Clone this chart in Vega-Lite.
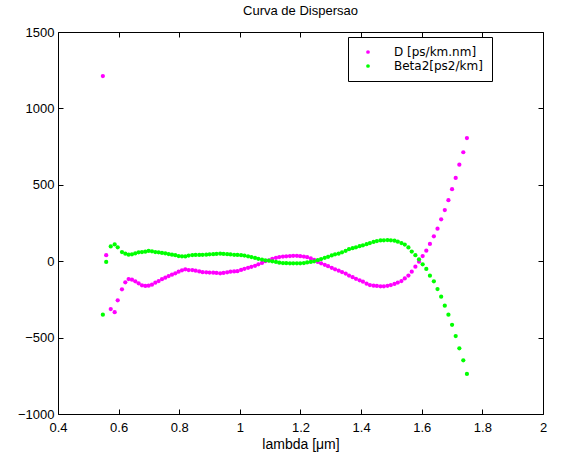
{
  "$schema": "https://vega.github.io/schema/vega-lite/v6.json",
  "width": 485,
  "height": 382,
  "autosize": {"type": "none"},
  "padding": {"left": 58, "top": 32, "right": 20, "bottom": 43},
  "background": "white",
  "config": {
    "view": {"stroke": "#000000", "strokeWidth": 1},
    "font": "Liberation Sans",
    "axis": {
      "domain": false,
      "grid": false,
      "tickColor": "#000000",
      "tickSize": -5,
      "labelColor": "#000000",
      "labelFont": "Liberation Sans",
      "labelFontSize": 13,
      "titleFont": "Liberation Sans",
      "titleFontSize": 14,
      "titleFontWeight": "normal",
      "titleColor": "#000000"
    }
  },
  "title": {
    "text": "Curva de Dispersao",
    "fontSize": 13,
    "fontWeight": "normal",
    "font": "Liberation Sans",
    "color": "#000000",
    "anchor": "middle",
    "offset": 8
  },
  "data": {
    "values": [
      {"l": 0.548, "D": 1212, "Beta2": -350},
      {"l": 0.559, "D": 39, "Beta2": -5},
      {"l": 0.574, "D": -313, "Beta2": 97},
      {"l": 0.587, "D": -334, "Beta2": 110},
      {"l": 0.597, "D": -256, "Beta2": 91},
      {"l": 0.611, "D": -184, "Beta2": 60},
      {"l": 0.622, "D": -138, "Beta2": 49},
      {"l": 0.633, "D": -117, "Beta2": 43},
      {"l": 0.644, "D": -121, "Beta2": 45},
      {"l": 0.655, "D": -132, "Beta2": 52},
      {"l": 0.666, "D": -145, "Beta2": 58},
      {"l": 0.677, "D": -158, "Beta2": 60},
      {"l": 0.688, "D": -162, "Beta2": 62},
      {"l": 0.699, "D": -160, "Beta2": 67},
      {"l": 0.710, "D": -154, "Beta2": 65},
      {"l": 0.721, "D": -141, "Beta2": 60},
      {"l": 0.732, "D": -130, "Beta2": 58},
      {"l": 0.743, "D": -118, "Beta2": 54},
      {"l": 0.754, "D": -108, "Beta2": 52},
      {"l": 0.765, "D": -97, "Beta2": 47},
      {"l": 0.776, "D": -88, "Beta2": 43},
      {"l": 0.787, "D": -79, "Beta2": 39},
      {"l": 0.798, "D": -69, "Beta2": 34},
      {"l": 0.809, "D": -60, "Beta2": 32},
      {"l": 0.820, "D": -53, "Beta2": 31},
      {"l": 0.831, "D": -58, "Beta2": 37},
      {"l": 0.843, "D": -58, "Beta2": 40},
      {"l": 0.854, "D": -62, "Beta2": 41},
      {"l": 0.866, "D": -67, "Beta2": 41},
      {"l": 0.877, "D": -72, "Beta2": 42},
      {"l": 0.889, "D": -73, "Beta2": 43},
      {"l": 0.900, "D": -74, "Beta2": 45},
      {"l": 0.912, "D": -75, "Beta2": 46},
      {"l": 0.923, "D": -77, "Beta2": 48},
      {"l": 0.935, "D": -79, "Beta2": 49},
      {"l": 0.946, "D": -77, "Beta2": 48},
      {"l": 0.958, "D": -73, "Beta2": 46},
      {"l": 0.969, "D": -69, "Beta2": 44},
      {"l": 0.981, "D": -67, "Beta2": 42},
      {"l": 0.992, "D": -65, "Beta2": 41},
      {"l": 1.004, "D": -57, "Beta2": 39},
      {"l": 1.015, "D": -50, "Beta2": 37},
      {"l": 1.027, "D": -43, "Beta2": 32},
      {"l": 1.038, "D": -37, "Beta2": 27},
      {"l": 1.050, "D": -30, "Beta2": 21},
      {"l": 1.061, "D": -20, "Beta2": 16},
      {"l": 1.073, "D": -11, "Beta2": 11},
      {"l": 1.084, "D": 0, "Beta2": 6},
      {"l": 1.096, "D": 6, "Beta2": 3},
      {"l": 1.107, "D": 16, "Beta2": -1},
      {"l": 1.119, "D": 22, "Beta2": -5},
      {"l": 1.130, "D": 27, "Beta2": -10},
      {"l": 1.142, "D": 30, "Beta2": -12},
      {"l": 1.153, "D": 32, "Beta2": -13},
      {"l": 1.165, "D": 34, "Beta2": -14},
      {"l": 1.176, "D": 35, "Beta2": -14},
      {"l": 1.188, "D": 35, "Beta2": -14},
      {"l": 1.199, "D": 33, "Beta2": -14},
      {"l": 1.211, "D": 30, "Beta2": -12},
      {"l": 1.222, "D": 26, "Beta2": -8},
      {"l": 1.234, "D": 18, "Beta2": -5},
      {"l": 1.245, "D": 9, "Beta2": -1},
      {"l": 1.257, "D": -5, "Beta2": 7},
      {"l": 1.268, "D": -14, "Beta2": 14},
      {"l": 1.280, "D": -24, "Beta2": 22},
      {"l": 1.291, "D": -33, "Beta2": 29},
      {"l": 1.303, "D": -43, "Beta2": 38},
      {"l": 1.314, "D": -53, "Beta2": 45},
      {"l": 1.326, "D": -62, "Beta2": 50},
      {"l": 1.337, "D": -71, "Beta2": 58},
      {"l": 1.349, "D": -81, "Beta2": 68},
      {"l": 1.360, "D": -94, "Beta2": 79},
      {"l": 1.372, "D": -105, "Beta2": 85},
      {"l": 1.383, "D": -115, "Beta2": 91},
      {"l": 1.395, "D": -125, "Beta2": 98},
      {"l": 1.406, "D": -134, "Beta2": 104},
      {"l": 1.418, "D": -147, "Beta2": 111},
      {"l": 1.429, "D": -156, "Beta2": 119},
      {"l": 1.441, "D": -160, "Beta2": 126},
      {"l": 1.452, "D": -162, "Beta2": 132},
      {"l": 1.464, "D": -164, "Beta2": 136},
      {"l": 1.475, "D": -164, "Beta2": 137},
      {"l": 1.487, "D": -161, "Beta2": 138},
      {"l": 1.498, "D": -156, "Beta2": 137},
      {"l": 1.510, "D": -149, "Beta2": 134},
      {"l": 1.521, "D": -140, "Beta2": 128},
      {"l": 1.533, "D": -130, "Beta2": 119},
      {"l": 1.544, "D": -113, "Beta2": 109},
      {"l": 1.556, "D": -94, "Beta2": 90},
      {"l": 1.567, "D": -69, "Beta2": 63},
      {"l": 1.579, "D": -36, "Beta2": 39},
      {"l": 1.591, "D": -3, "Beta2": 12},
      {"l": 1.603, "D": 34, "Beta2": -20},
      {"l": 1.615, "D": 69, "Beta2": -51},
      {"l": 1.627, "D": 113, "Beta2": -95},
      {"l": 1.640, "D": 163, "Beta2": -132},
      {"l": 1.652, "D": 213, "Beta2": -182},
      {"l": 1.664, "D": 274, "Beta2": -232},
      {"l": 1.676, "D": 335, "Beta2": -291},
      {"l": 1.688, "D": 399, "Beta2": -350},
      {"l": 1.700, "D": 471, "Beta2": -416},
      {"l": 1.712, "D": 545, "Beta2": -490},
      {"l": 1.724, "D": 632, "Beta2": -570},
      {"l": 1.737, "D": 713, "Beta2": -649},
      {"l": 1.749, "D": 806, "Beta2": -738}
    ]
  },
  "transform": [{"fold": ["D", "Beta2"], "as": ["serie", "v"]}],
  "layer": [
    {
      "mark": {"type": "point", "filled": true, "shape": "circle", "size": 18, "opacity": 1},
      "encoding": {
        "x": {
          "field": "l", "type": "quantitative",
          "scale": {"domain": [0.4, 2], "nice": false, "zero": false},
          "axis": {"values": [0.4, 0.6, 0.8, 1, 1.2, 1.4, 1.6, 1.8, 2], "format": "~g", "title": "lambda [μm]", "labelPadding": 12, "titlePadding": 3, "labelFlush": false}
        },
        "y": {
          "field": "v", "type": "quantitative",
          "scale": {"domain": [-1000, 1500], "nice": false, "zero": false},
          "axis": {"values": [-1000, -500, 0, 500, 1000, 1500], "format": "d", "title": null, "labelPadding": 9, "labelFlush": false}
        },
        "color": {
          "field": "serie", "type": "nominal",
          "scale": {"domain": ["D", "Beta2"], "range": ["#ff00ff", "#00ff00"]},
          "legend": {
            "title": null,
            "orient": "none",
            "legendX": 290,
            "legendY": 5,
            "direction": "vertical",
            "strokeColor": "#000000",
            "fillColor": "#ffffff",
            "padding": 9,
            "symbolType": "circle",
            "symbolSize": 14,
            "symbolOffset": 5,
            "labelOffset": 20,
            "labelFontSize": 12,
            "labelFont": "DejaVu Sans",
            "labelColor": "#000000",
            "rowPadding": 2,
            "labelExpr": "datum.label == 'D' ? 'D [ps/km.nm]' : 'Beta2[ps2/km]'"
          }
        },
        "order": {"field": "l", "type": "quantitative"}
      }
    },
    {
      "mark": {"type": "point", "opacity": 0},
      "encoding": {
        "x": {"field": "l", "type": "quantitative", "axis": {"orient": "top", "values": [0.4, 0.6, 0.8, 1, 1.2, 1.4, 1.6, 1.8, 2], "labels": false, "title": null}},
        "y": {"field": "v", "type": "quantitative", "axis": {"orient": "right", "values": [-1000, -500, 0, 500, 1000, 1500], "labels": false, "title": null}}
      }
    }
  ],
  "resolve": {"axis": {"x": "independent", "y": "independent"}}
}
